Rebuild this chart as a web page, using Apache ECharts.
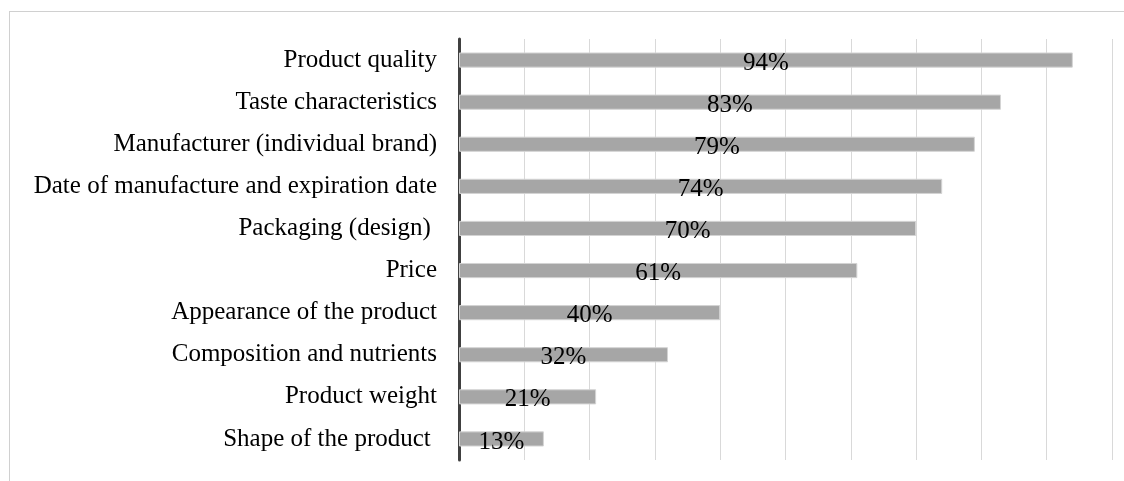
<!DOCTYPE html>
<html><head><meta charset="utf-8">
<script src="https://cdn.jsdelivr.net/npm/echarts@6/dist/echarts.min.js"></script>
<style>html,body{margin:0;padding:0;background:#fff;overflow:hidden}#wrap{position:relative;width:1124px;height:481px}#c{width:1124px;height:481px;position:absolute;left:0;top:0}
#frame{position:absolute;left:9px;top:11px;width:1200px;height:600px;border:1px solid #d0d0d0;pointer-events:none;z-index:5}</style>
</head><body>
<div id="wrap"><div id="c"></div><div id="frame"></div></div>
<script>
const categories = ["Product quality","Taste characteristics","Manufacturer (individual brand)","Date of manufacture and expiration date","Packaging (design) ","Price","Appearance of the product","Composition and nutrients","Product weight","Shape of the product "];
const values = [94,83,79,74,70,61,40,32,21,13];
const chart = echarts.init(document.getElementById('c'));
chart.setOption({
  animation:false,
  grid:{left:459,right:12,top:39,bottom:21,containLabel:false},
  xAxis:{type:'value',min:0,max:100,interval:10,
    axisLabel:{show:false},axisLine:{show:false},axisTick:{show:false},
    splitLine:{show:true,lineStyle:{color:'#d9d9d9',width:1}}},
  yAxis:{type:'category',data:categories,inverse:true,
    axisLine:{show:true,lineStyle:{color:'#404040',width:3}},
    axisTick:{show:false},
    axisLabel:{color:'#000',fontFamily:'Liberation Serif',fontSize:25,margin:22}},
  series:[{type:'bar',data:values,barWidth:'36%',
    itemStyle:{color:'#a6a6a6',borderColor:'#d4d4d4',borderWidth:1},
    label:{show:true,position:'inside',formatter:'{c}%',color:'#000',fontFamily:'Liberation Serif',fontSize:25,offset:[0,3]}}]
});
</script>
</body></html>
